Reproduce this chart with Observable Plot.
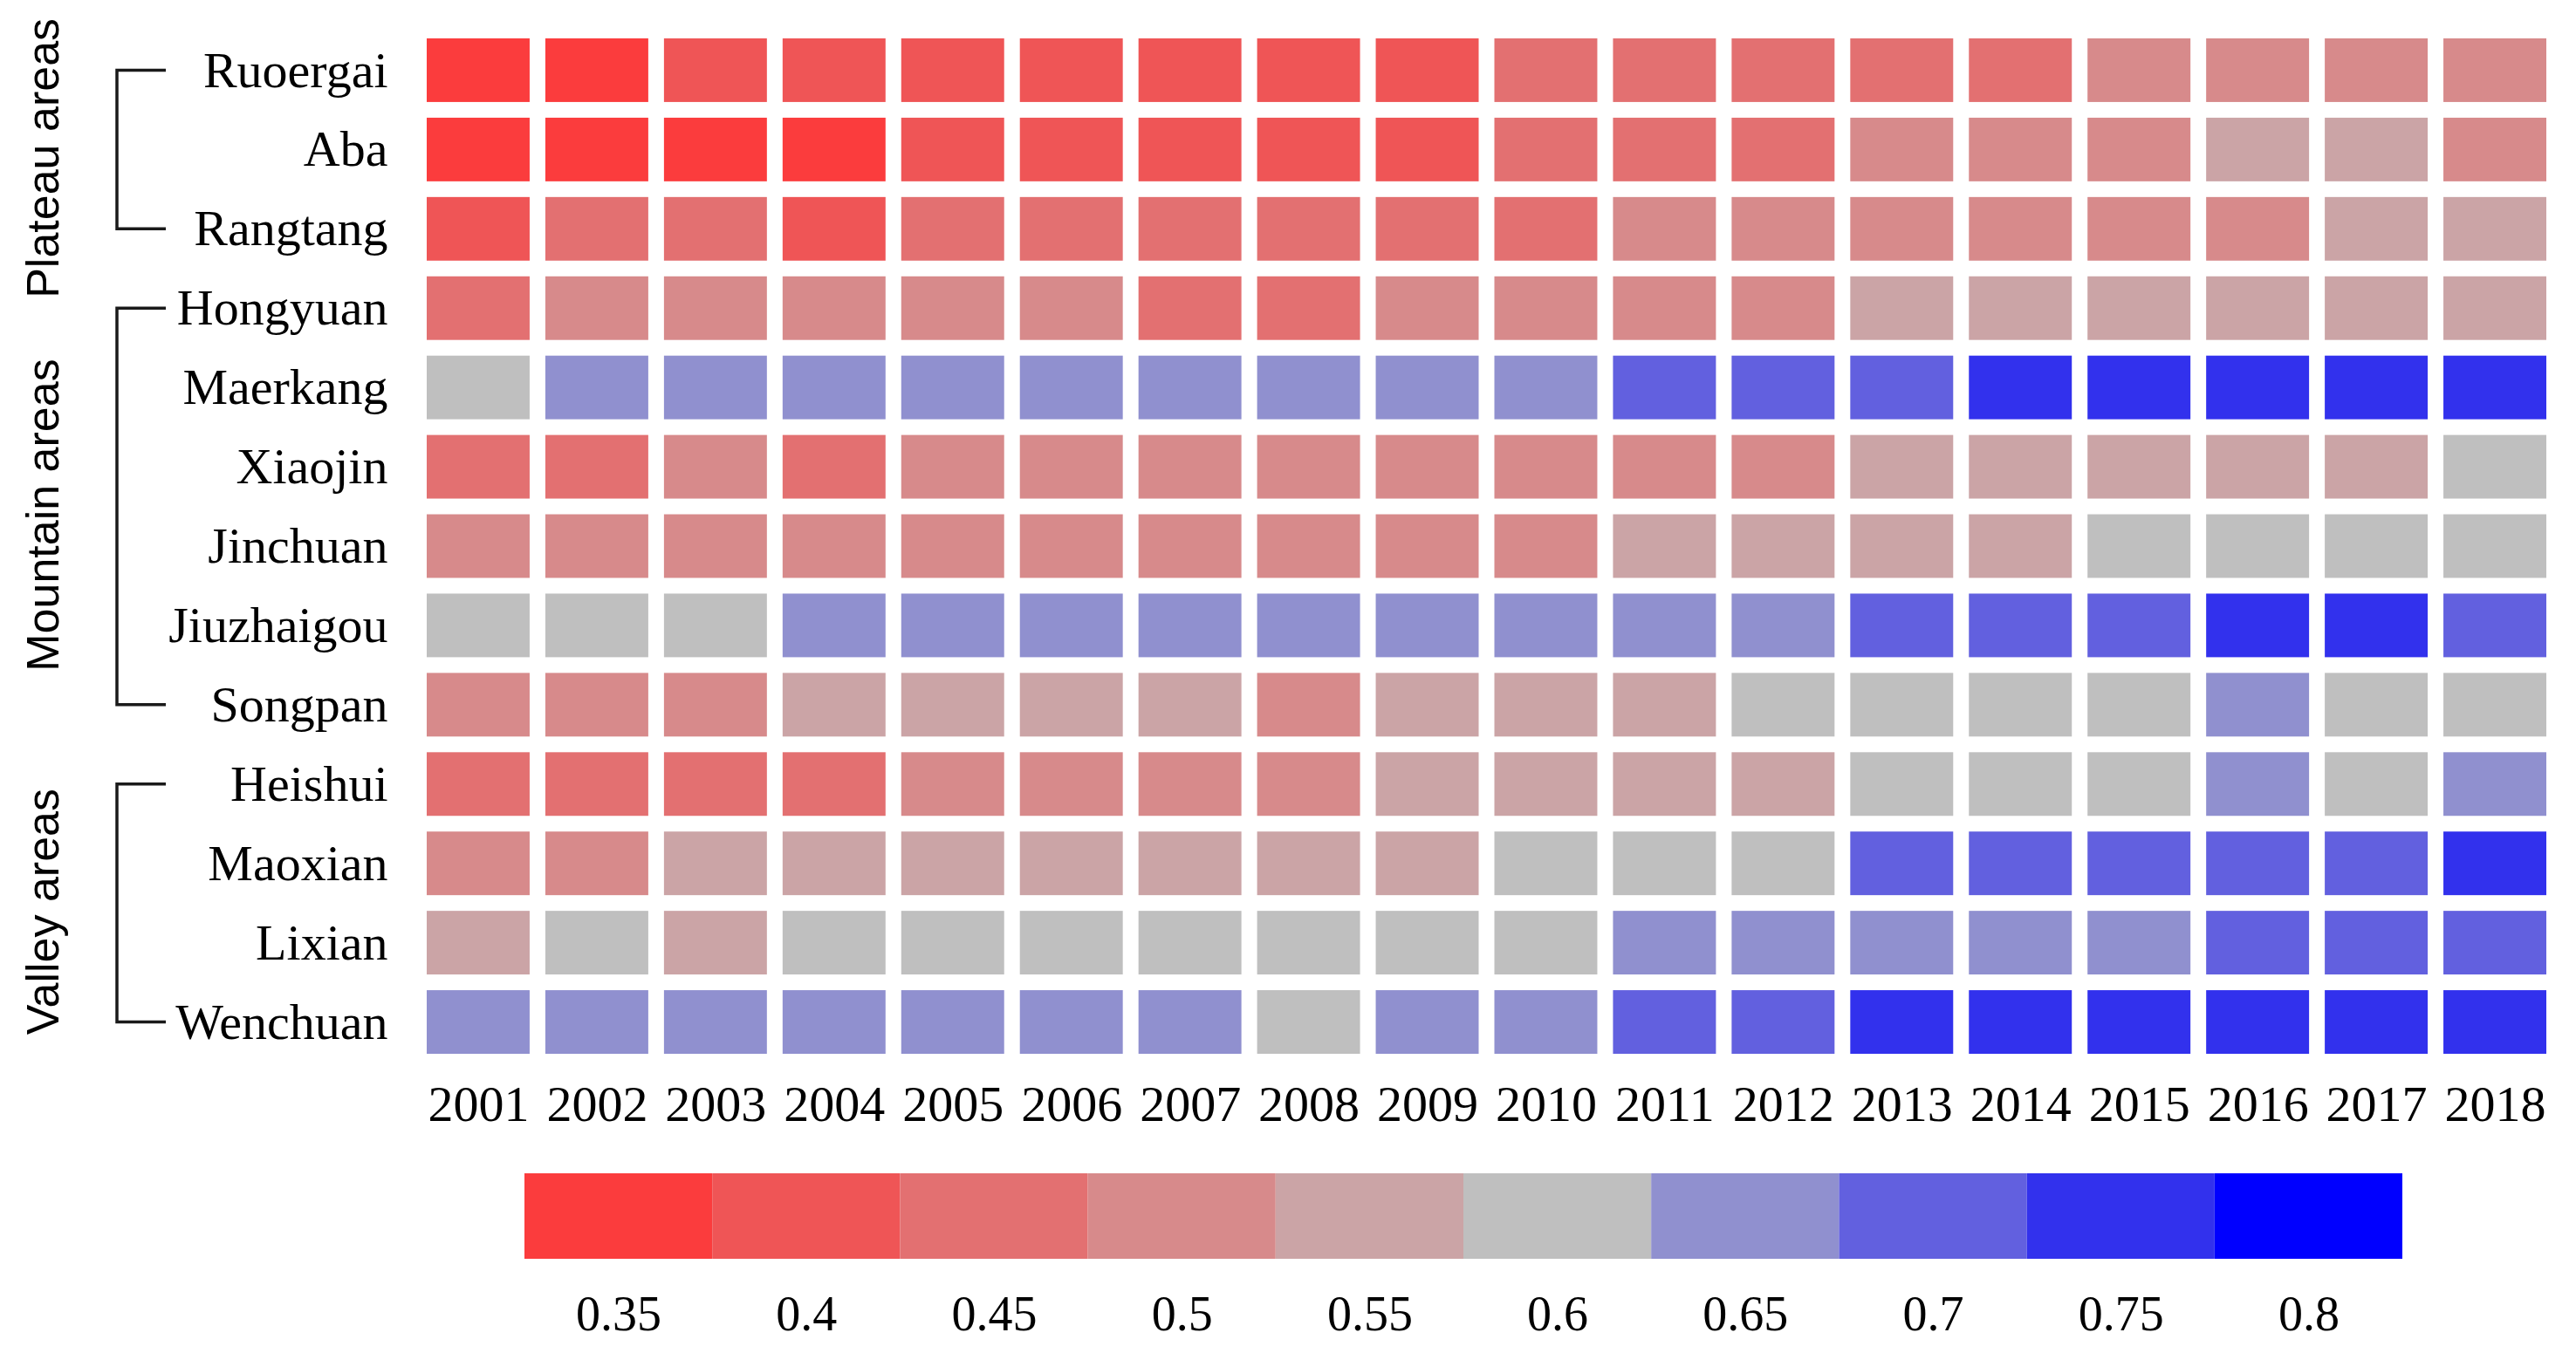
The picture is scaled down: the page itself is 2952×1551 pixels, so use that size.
<!DOCTYPE html>
<html>
<head>
<meta charset="utf-8">
<script src="https://cdn.jsdelivr.net/npm/d3@7"></script>
<script src="https://cdn.jsdelivr.net/npm/@observablehq/plot@0.6"></script>
<style>
  html, body { margin: 0; padding: 0; background: #ffffff; }
  #chart svg, #legend svg { display: block; }
</style>
</head>
<body>
<div id="chart"></div>
<div id="legend"></div>
<script>
// ---- Data ----
const years = [2001, 2002, 2003, 2004, 2005, 2006, 2007, 2008, 2009, 2010, 2011, 2012, 2013, 2014, 2015, 2016, 2017, 2018];
const regions = ["Ruoergai", "Aba", "Rangtang", "Hongyuan", "Maerkang", "Xiaojin", "Jinchuan", "Jiuzhaigou", "Songpan", "Heishui", "Maoxian", "Lixian", "Wenchuan"];

const ruoergai   = [0.35, 0.35, 0.4, 0.4, 0.4, 0.4, 0.4, 0.4, 0.4, 0.45, 0.45, 0.45, 0.45, 0.45, 0.5, 0.5, 0.5, 0.5];
const aba        = [0.35, 0.35, 0.35, 0.35, 0.4, 0.4, 0.4, 0.4, 0.4, 0.45, 0.45, 0.45, 0.5, 0.5, 0.5, 0.55, 0.55, 0.5];
const rangtang   = [0.4, 0.45, 0.45, 0.4, 0.45, 0.45, 0.45, 0.45, 0.45, 0.45, 0.5, 0.5, 0.5, 0.5, 0.5, 0.5, 0.55, 0.55];
const hongyuan   = [0.45, 0.5, 0.5, 0.5, 0.5, 0.5, 0.45, 0.45, 0.5, 0.5, 0.5, 0.5, 0.55, 0.55, 0.55, 0.55, 0.55, 0.55];
const maerkang   = [0.6, 0.65, 0.65, 0.65, 0.65, 0.65, 0.65, 0.65, 0.65, 0.65, 0.7, 0.7, 0.7, 0.75, 0.75, 0.75, 0.75, 0.75];
const xiaojin    = [0.45, 0.45, 0.5, 0.45, 0.5, 0.5, 0.5, 0.5, 0.5, 0.5, 0.5, 0.5, 0.55, 0.55, 0.55, 0.55, 0.55, 0.6];
const jinchuan   = [0.5, 0.5, 0.5, 0.5, 0.5, 0.5, 0.5, 0.5, 0.5, 0.5, 0.55, 0.55, 0.55, 0.55, 0.6, 0.6, 0.6, 0.6];
const jiuzhaigou = [0.6, 0.6, 0.6, 0.65, 0.65, 0.65, 0.65, 0.65, 0.65, 0.65, 0.65, 0.65, 0.7, 0.7, 0.7, 0.75, 0.75, 0.7];
const songpan    = [0.5, 0.5, 0.5, 0.55, 0.55, 0.55, 0.55, 0.5, 0.55, 0.55, 0.55, 0.6, 0.6, 0.6, 0.6, 0.65, 0.6, 0.6];
const heishui    = [0.45, 0.45, 0.45, 0.45, 0.5, 0.5, 0.5, 0.5, 0.55, 0.55, 0.55, 0.55, 0.6, 0.6, 0.6, 0.65, 0.6, 0.65];
const maoxian    = [0.5, 0.5, 0.55, 0.55, 0.55, 0.55, 0.55, 0.55, 0.55, 0.6, 0.6, 0.6, 0.7, 0.7, 0.7, 0.7, 0.7, 0.75];
const lixian     = [0.55, 0.6, 0.55, 0.6, 0.6, 0.6, 0.6, 0.6, 0.6, 0.6, 0.65, 0.65, 0.65, 0.65, 0.65, 0.7, 0.7, 0.7];
const wenchuan   = [0.65, 0.65, 0.65, 0.65, 0.65, 0.65, 0.65, 0.6, 0.65, 0.65, 0.7, 0.7, 0.75, 0.75, 0.75, 0.75, 0.75, 0.75];

const seriesByRegion = {
  Ruoergai: ruoergai, Aba: aba, Rangtang: rangtang, Hongyuan: hongyuan, Maerkang: maerkang,
  Xiaojin: xiaojin, Jinchuan: jinchuan, Jiuzhaigou: jiuzhaigou, Songpan: songpan,
  Heishui: heishui, Maoxian: maoxian, Lixian: lixian, Wenchuan: wenchuan
};

const groupNames = ["Plateau areas", "Mountain areas", "Valley areas"];
const groupFirst = ["Ruoergai", "Hongyuan", "Heishui"];
const groupLast  = ["Rangtang", "Songpan", "Wenchuan"];

const classes = [0.35, 0.4, 0.45, 0.5, 0.55, 0.6, 0.65, 0.7, 0.75, 0.8];
const classColors = ["#fb3c3d", "#ef5556", "#e37071", "#d78a8b", "#cba4a6", "#bfbfbf", "#9090cf", "#6260df", "#3231ed", "#0000ff"];

// ---- Table ----
const table = [];
regions.forEach(r => {
  seriesByRegion[r].forEach((v, i) => table.push({region: r, year: years[i], value: v}));
});

const serif = '"Liberation Serif", "Times New Roman", "DejaVu Serif", serif';
const sans = '"Liberation Sans", Arial, "DejaVu Sans", sans-serif';

const chart = Plot.plot({
  width: 2952,
  height: 1330,
  marginLeft: 480,
  marginRight: 25,
  marginTop: 35,
  marginBottom: 113,
  style: {fontFamily: serif, fontSize: "58px", color: "#000", background: "#fff", overflow: "visible"},
  x: {type: "band", domain: years, padding: 0, round: false, tickSize: 0, tickPadding: 26, label: null, tickFormat: d => String(d)},
  y: {type: "band", domain: regions, padding: 0, round: false, tickSize: 0, tickPadding: 36, label: null},
  color: {type: "ordinal", domain: classes, range: classColors},
  marks: [
    Plot.cell(table, {x: "year", y: "region", fill: "value", inset: 9})
  ]
});
document.getElementById("chart").appendChild(chart);

// Group brackets and labels positioned with the plot's own y scale
const ys = chart.scale("y");
const bw = ys.bandwidth;
const svg = d3.select(chart);
const gg = svg.append("g");
groupNames.forEach((name, i) => {
  const y1 = ys.apply(groupFirst[i]) + bw / 2;
  const y2 = ys.apply(groupLast[i]) + bw / 2;
  gg.append("path")
    .attr("d", `M190,${y1}H134V${y2}H190`)
    .attr("fill", "none")
    .attr("stroke", "#1a1a1a")
    .attr("stroke-width", 3.5);
  gg.append("text")
    .attr("transform", `translate(67,${(y1 + y2) / 2 + 10}) rotate(-90)`)
    .attr("text-anchor", "middle")
    .attr("font-family", sans)
    .attr("font-size", 52)
    .attr("fill", "#000")
    .text(name);
});

// Legend
const legend = Plot.plot({
  width: 2952,
  height: 221,
  marginLeft: 601,
  marginRight: 199,
  marginTop: 15,
  marginBottom: 108,
  style: {fontFamily: serif, fontSize: "56px", color: "#000", background: "#fff"},
  x: {type: "band", domain: classes, padding: 0, round: false, tickSize: 0, tickPadding: 42, label: null, tickFormat: d => String(d)},
  color: {type: "ordinal", domain: classes, range: classColors},
  marks: [
    Plot.cell(classes, {x: d => d, fill: d => d, inset: 0})
  ]
});
document.getElementById("legend").appendChild(legend);
</script>
</body>
</html>
